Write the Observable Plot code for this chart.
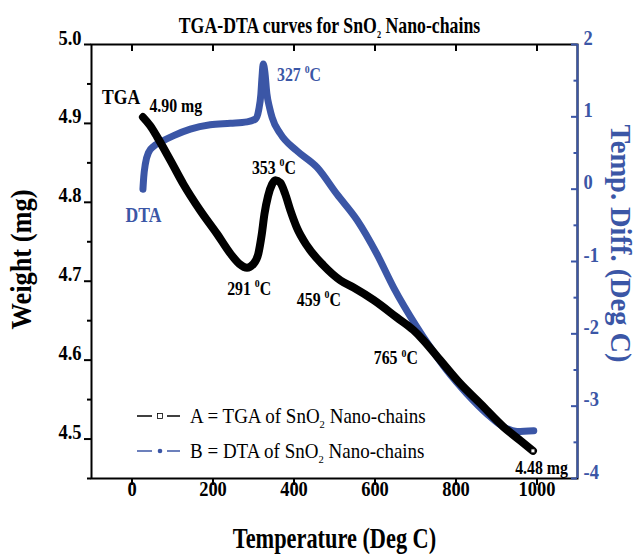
<!DOCTYPE html>
<html><head><meta charset="utf-8">
<script src="https://cdn.jsdelivr.net/npm/d3@7"></script>
<script src="https://cdn.jsdelivr.net/npm/@observablehq/plot@0.6"></script>
<style>body{margin:0;background:#fff}</style>
</head><body><div id="chart"></div>
<script>
// ---- data ----
const tgaTemp   = [27, 45, 62, 95, 127, 168, 210, 243, 265, 284, 300, 312, 320, 327, 336, 346, 354, 366, 378, 391, 407, 432, 473, 515, 547, 597, 654, 695, 720, 761, 811, 860, 918, 959, 990];
const tgaWeight = [4.908, 4.897, 4.883, 4.853, 4.823, 4.790, 4.760, 4.735, 4.722, 4.717, 4.722, 4.735, 4.758, 4.785, 4.808, 4.823, 4.828, 4.825, 4.811, 4.790, 4.768, 4.745, 4.720, 4.701, 4.692, 4.676, 4.654, 4.638, 4.625, 4.600, 4.570, 4.545, 4.515, 4.498, 4.485];
const dtaTemp   = [27, 29, 33, 41, 53, 74, 103, 144, 193, 243, 284, 305, 313, 318, 321, 324, 328, 333, 340, 346, 366, 407, 457, 506, 556, 605, 646, 704, 737, 778, 827, 877, 918, 951, 992];
const dtaDiff   = [0.0, 0.17, 0.35, 0.51, 0.59, 0.66, 0.74, 0.83, 0.89, 0.91, 0.93, 0.97, 1.10, 1.30, 1.55, 1.73, 1.62, 1.32, 1.12, 0.99, 0.77, 0.53, 0.30, -0.07, -0.43, -0.90, -1.36, -1.91, -2.19, -2.51, -2.83, -3.11, -3.29, -3.35, -3.34];

const xTicks     = [0, 200, 400, 600, 800, 1000];
const leftTicks  = [4.5, 4.6, 4.7, 4.8, 4.9, 5.0];
const leftMinor  = [4.45, 4.55, 4.65, 4.75, 4.85, 4.95];
const rightTicks = [-4, -3, -2, -1, 0, 1, 2];
const rightMinor = [-3.5, -2.5, -1.5, -0.5, 0.5, 1.5];
const xDomain = [-100, 1100];
const wDomain = [4.45, 5.0];
const dDomain = [-4, 2];

const annoText   = ["TGA", "4.90 mg", "DTA", "327 ^0C", "353 ^0C", "291 ^0C", "459 ^0C", "765 ^0C", "4.48 mg"];
const annoTemp   = [-74, 43, -16, 358, 296, 235, 407, 597, 946];
const annoWeight = [4.925, 4.914, 4.775, 4.954, 4.836, 4.683, 4.669, 4.595, 4.456];
const annoSeries = ["TGA", "TGA", "DTA", "DTA", "TGA", "TGA", "TGA", "TGA", "TGA"];
const annoSize   = [20, 18, 20, 18, 18, 18, 18, 18, 18];

const legendLabels = ["A = TGA of SnO_2 Nano-chains", "B = DTA of SnO_2 Nano-chains"];
const titleText = "TGA-DTA curves for SnO_2 Nano-chains";
const xLabel = "Temperature (Deg C)";
const yLabel = "Weight (mg)";
const y2Label = "Temp. Diff. (Deg C)";

// ---- styling ----
const BLUE = "#3b56a6";
const FONT = "'Liberation Serif', 'Times New Roman', serif";
const W = 638, H = 554, mL = 91, mR = 61, mT = 44, mB = 76;
const plotW = W - mL - mR, plotH = H - mT - mB;

const toW = d => wDomain[0] + (d - dDomain[0]) * (wDomain[1] - wDomain[0]) / (dDomain[1] - dDomain[0]);
const fromW = w => dDomain[0] + (w - wDomain[0]) * (dDomain[1] - dDomain[0]) / (wDomain[1] - wDomain[0]);

const tga = tgaTemp.map((t, i) => ({t, w: tgaWeight[i]}));
const dta = dtaTemp.map((t, i) => ({t, w: toW(dtaDiff[i])}));
const annos = annoText.map((s, i) => ({s, t: annoTemp[i], w: annoWeight[i], c: annoSeries[i] === "DTA" ? BLUE : "black", fs: annoSize[i]}));

const svg = Plot.plot({
  width: W, height: H,
  marginLeft: mL, marginRight: mR, marginTop: mT, marginBottom: mB,
  style: {fontFamily: FONT, fontSize: "21px", fontWeight: "bold", background: "white", color: "black", overflow: "visible"},
  x: {domain: xDomain},
  y: {domain: wDomain},
  marks: [
    Plot.line(dta, {x: "t", y: "w", stroke: BLUE, strokeWidth: 7, curve: "monotone-x", strokeLinecap: "round", strokeLinejoin: "round"}),
    Plot.line(tga, {x: "t", y: "w", stroke: "black", strokeWidth: 8, curve: "monotone-x", strokeLinecap: "round", strokeLinejoin: "round"}),
    Plot.dot(tga.slice(-1), {x: "t", y: "w", symbol: "square", r: 2.2, fill: "white", stroke: "black", strokeWidth: 0.8}),
    Plot.frame({stroke: "black", strokeWidth: 2}),
    Plot.ruleX([xDomain[1]], {stroke: BLUE, strokeWidth: 2}),
    // top inward ticks
    Plot.ruleX(xTicks, {insetBottom: plotH - 7, stroke: "black", strokeWidth: 2}),
    // right inward ticks
    Plot.ruleY(rightTicks.map(toW), {insetLeft: plotW - 6, stroke: BLUE, strokeWidth: 2}),
    Plot.ruleY(rightMinor.map(toW), {insetLeft: plotW - 3.5, stroke: BLUE, strokeWidth: 2}),
    Plot.axisX({anchor: "bottom", ticks: xTicks, tickSize: 7, tickPadding: 10, strokeWidth: 2, label: null, tickFormat: d => String(d), fontSize: 21}),
    Plot.axisY({anchor: "left", ticks: leftMinor, tickSize: 4, strokeWidth: 2, label: null, tickFormat: () => ""}),
    Plot.axisY({anchor: "left", ticks: leftTicks, tickSize: 7, tickPadding: 3, strokeWidth: 2, label: null, tickFormat: d => d.toFixed(1), fontSize: 21}),
    Plot.axisY({anchor: "right", ticks: rightTicks.map(toW), tickSize: 0, tickPadding: 6, label: null, color: BLUE, fill: BLUE, tickFormat: w => String(Math.round(fromW(w))), fontSize: 21}),
    Plot.text(annos, {x: "t", y: "w", text: "s", fill: "c", fontSize: "fs", textAnchor: "start", lineAnchor: "bottom", fontWeight: "bold"}),
    Plot.text([titleText], {frameAnchor: "top", dx: -5, dy: -12, textAnchor: "middle", lineAnchor: "bottom", fontSize: 24, fontWeight: "bold"}),
    Plot.text([xLabel], {frameAnchor: "bottom", dy: 69, textAnchor: "middle", lineAnchor: "bottom", fontSize: 29, fontWeight: "bold"}),
    Plot.text([yLabel], {frameAnchor: "left", dx: -61, dy: -2, textAnchor: "middle", rotate: -90, fontSize: 30, fontWeight: "bold"}),
    Plot.text([y2Label], {frameAnchor: "right", dx: 33, dy: -18, textAnchor: "middle", rotate: 90, fontSize: 29, fontWeight: "bold", fill: BLUE})
  ]
});

// ---- legend (layout only) ----
const lg = d3.select(svg).append("g").attr("font-family", FONT).attr("font-size", 20).attr("font-weight", "normal").attr("text-anchor", "start");
const legendColors = ["black", BLUE];
legendLabels.forEach((lab, i) => {
  const cy = 416 + i * 35;
  const g = lg.append("g");
  g.append("line").attr("x1", 137).attr("x2", 152).attr("y1", cy).attr("y2", cy).attr("stroke", legendColors[i]).attr("stroke-width", 1.5);
  g.append("line").attr("x1", 167).attr("x2", 180).attr("y1", cy).attr("y2", cy).attr("stroke", legendColors[i]).attr("stroke-width", 1.5);
  if (i === 0) g.append("rect").attr("x", 157.5).attr("y", cy - 2.5).attr("width", 5).attr("height", 5).attr("fill", "white").attr("stroke", "black").attr("stroke-width", 0.8);
  else g.append("circle").attr("cx", 160).attr("cy", cy).attr("r", 2.3).attr("fill", BLUE);
  g.append("text").attr("x", 190).attr("y", cy + 7).attr("fill", "black").text(lab);
});

// ---- text post-processing: condensed look + sub/superscripts ----
const scaleFor = s => {
  if (s === y2Label) return 0.98;
  if (s === yLabel) return 0.88;
  if (s === xLabel) return 0.77;
  if (s === titleText) return 0.74;
  if (legendLabels.includes(s)) return 0.95;
  return 0.88;
};
svg.querySelectorAll("text").forEach(t => {
  const s = t.textContent;
  if (!s) return;
  const x = +t.getAttribute("x") || 0, y = +t.getAttribute("y") || 0;
  t.removeAttribute("x"); t.removeAttribute("y");
  const tr = t.getAttribute("transform") || "";
  t.setAttribute("transform", `${tr} translate(${x},${y}) scale(${scaleFor(s)},1)`);
  if (/[_^]/.test(s) && t.children.length === 0) {
    const fs = parseFloat(getComputedStyle(t).fontSize) || 18;
    t.textContent = "";
    const re = /([_^])(\w)/g; let last = 0, m, pending = 0;
    const add = (txt, opts = {}) => {
      const ts = document.createElementNS("http://www.w3.org/2000/svg", "tspan");
      ts.textContent = txt;
      if (opts.dy) ts.setAttribute("dy", opts.dy);
      if (opts.fs) ts.setAttribute("font-size", opts.fs);
      t.appendChild(ts);
    };
    while ((m = re.exec(s))) {
      if (m.index > last) { add(s.slice(last, m.index), {dy: pending}); pending = 0; }
      const shift = m[1] === "_" ? 0.28 * fs : -0.42 * fs;
      add(m[2], {dy: shift + pending, fs: 0.62 * fs});
      pending = -shift;
      last = re.lastIndex;
    }
    if (last < s.length) add(s.slice(last), {dy: pending});
  }
});

document.getElementById("chart").appendChild(svg);
</script>
</body></html>
